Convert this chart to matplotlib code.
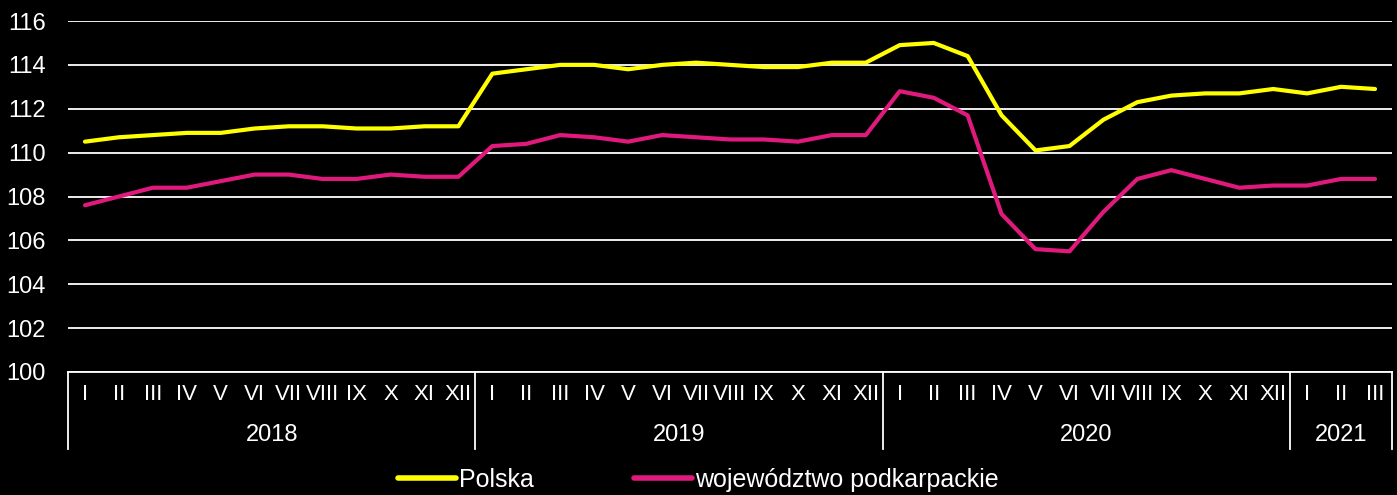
"""Polska vs. województwo podkarpackie, monthly index 2018-2021."""

import matplotlib

matplotlib.use("Agg")
import matplotlib.pyplot as plt
from matplotlib.lines import Line2D
import matplotlib.transforms as mtransforms

FONT = ["Liberation Sans Narrow", "Liberation Sans", "DejaVu Sans"]
plt.rcParams["font.family"] = FONT

BG = "#000000"
FG = "#ffffff"
YELLOW = "#ffff00"
MAGENTA = "#e0197d"

years = ["2018", "2019", "2020", "2021"]
months_per_year = [12, 12, 12, 3]
month_names = ["I", "II", "III", "IV", "V", "VI", "VII", "VIII", "IX", "X", "XI", "XII"]

polska = [
    110.5, 110.7, 110.8, 110.9, 110.9, 111.1, 111.2, 111.2, 111.1, 111.1, 111.2, 111.2,
    113.6, 113.8, 114.0, 114.0, 113.8, 114.0, 114.1, 114.0, 113.9, 113.9, 114.1, 114.1,
    114.9, 115.0, 114.4, 111.7, 110.1, 110.3, 111.5, 112.3, 112.6, 112.7, 112.7, 112.9,
    112.7, 113.0, 112.9,
]
podkarpackie = [
    107.6, 108.0, 108.4, 108.4, 108.7, 109.0, 109.0, 108.8, 108.8, 109.0, 108.9, 108.9,
    110.3, 110.4, 110.8, 110.7, 110.5, 110.8, 110.7, 110.6, 110.6, 110.5, 110.8, 110.8,
    112.8, 112.5, 111.7, 107.2, 105.6, 105.5, 107.3, 108.8, 109.2, 108.8, 108.4, 108.5,
    108.5, 108.8, 108.8,
]

month_labels = [m for n in months_per_year for m in month_names[:n]]
x = list(range(len(month_labels)))

fig = plt.figure(figsize=(13.97, 4.95), dpi=100, facecolor=BG)
ax = fig.add_axes([68 / 1397, 123 / 495, 1324 / 1397, 351 / 495], facecolor=BG)

ax.set_ylim(100, 116)
ax.set_yticks(range(100, 117, 2))
ax.set_xlim(-0.5, len(x) - 0.5)
ax.grid(axis="y", color=FG, linewidth=1.3)
ax.set_axisbelow(True)
for side in ["top", "right", "left"]:
    ax.spines[side].set_visible(False)
ax.spines["bottom"].set_color(FG)
ax.spines["bottom"].set_linewidth(1.3)

ax.plot(x, polska, color=YELLOW, linewidth=3, solid_capstyle="round", zorder=3)
ax.plot(x, podkarpackie, color=MAGENTA, linewidth=3, solid_capstyle="round", zorder=3)

ax.tick_params(axis="y", length=0, pad=16, labelcolor=FG, labelsize=17)
ax.set_xticks(x)
ax.set_xticklabels(month_labels)
ax.tick_params(axis="x", length=0, pad=9, labelcolor=FG, labelsize=16)

# year groups with separators
trans = mtransforms.blended_transform_factory(ax.transData, ax.transAxes)
start = -0.5
edges = [start]
for year, n in zip(years, months_per_year):
    end = start + n
    ax.text((start + end) / 2, -0.18, year, transform=trans, ha="center", va="center",
            color=FG, fontsize=17)
    edges.append(end)
    start = end
for e in edges:
    ax.plot([e, e], [0, -0.22], transform=trans, color=FG, linewidth=1.3, clip_on=False)

handles = [
    Line2D([], [], color=YELLOW, linewidth=4, solid_capstyle="round"),
    Line2D([], [], color=MAGENTA, linewidth=4, solid_capstyle="round"),
]
leg = fig.legend(handles, ["Polska", "województwo podkarpackie"], loc="center",
                 bbox_to_anchor=(0.5, 0.03), ncol=2, frameon=False, fontsize=18,
                 handlelength=2.3, handletextpad=0.15, columnspacing=4.0)
for t in leg.get_texts():
    t.set_color(FG)

fig.savefig("out.png", facecolor=BG)
